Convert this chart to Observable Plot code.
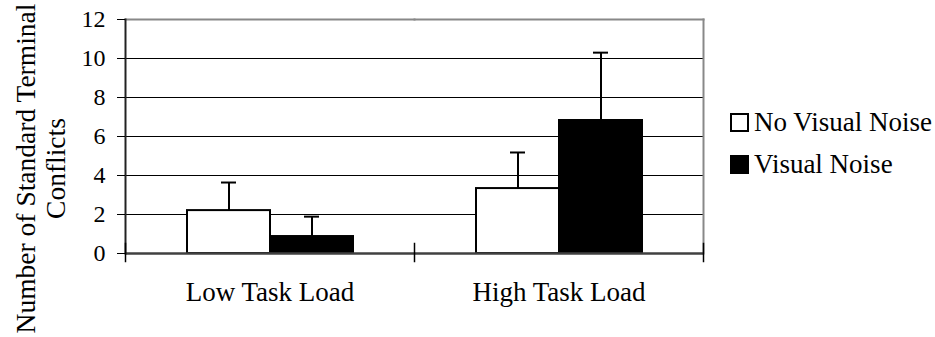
<!DOCTYPE html>
<html>
<head>
<meta charset="utf-8">
<script src="https://cdn.jsdelivr.net/npm/d3@7"></script>
<script src="https://cdn.jsdelivr.net/npm/@observablehq/plot@0.6"></script>
<style>
  body { margin: 0; background: #fff; }
  #chart { position: relative; width: 935px; height: 337px; font-family: "Liberation Serif", "Times New Roman", serif; color: #000; }
  #legend { position: absolute; left: 730px; top: 110px; }
  .item { display: flex; align-items: center; height: 25px; margin-bottom: 17px; font-size: 27px; line-height: 25px; white-space: nowrap; }
  .sw { width: 19px; height: 19px; box-sizing: border-box; border: 2px solid #000; margin-right: 5px; }
</style>
</head>
<body>
<div id="chart"><div id="legend"></div></div>
<script>
// ---- data ----
const groups = ["Low Task Load", "High Task Load"];
const series = ["No Visual Noise", "Visual Noise"];
const noNoiseMeans = [2.2, 3.33];
const noNoiseSDs = [1.44, 1.85];
const noiseMeans = [0.87, 6.82];
const noiseSDs = [1.02, 3.48];
const yTicks = [0, 2, 4, 6, 8, 10, 12];
const yTitle = ["Number of Standard Terminal", "Conflicts"];
const seriesColors = ["#ffffff", "#000000"];

const rows = groups.flatMap((g, i) => [
  {group: g, series: series[0], mean: noNoiseMeans[i], sd: noNoiseSDs[i]},
  {group: g, series: series[1], mean: noiseMeans[i], sd: noiseSDs[i]}
]);

const font = "'Liberation Serif', 'Times New Roman', serif";

const plot = Plot.plot({
  width: 935,
  height: 337,
  marginLeft: 124,
  marginRight: 232,
  marginTop: 19,
  marginBottom: 84,
  style: {fontFamily: font, fontSize: "25px", background: "#fff", color: "#000"},
  fx: {domain: groups, padding: 0},
  x: {domain: series, paddingInner: 0, paddingOuter: 0.733, axis: null},
  y: {domain: [0, 12]},
  color: {domain: series, range: seriesColors},
  marks: [
    Plot.ruleY(yTicks.filter(v => v > 0 && v < 12), {stroke: "#000", strokeWidth: 1}),
    Plot.frame({anchor: "top", stroke: "#888", strokeWidth: 2}),
    Plot.frame({anchor: "right", facetAnchor: "right", stroke: "#888", strokeWidth: 2}),
    Plot.barY(rows, {fx: "group", x: "series", y: "mean", fill: "series", stroke: "#000", strokeWidth: 2}),
    Plot.ruleX(rows, {fx: "group", x: "series", y1: "mean", y2: d => d.mean + d.sd, stroke: "#000", strokeWidth: 2}),
    Plot.tickY(rows, {fx: "group", x: "series", y: d => d.mean + d.sd, stroke: "#000", strokeWidth: 2, insetLeft: 34, insetRight: 34}),
    Plot.ruleY([0], {stroke: "#404040", strokeWidth: 2.5}),
    Plot.frame({anchor: "left", facetAnchor: "left", stroke: "#222", strokeWidth: 2}),
    Plot.frame({anchor: "left", insetTop: 224, insetBottom: -8, stroke: "#000", strokeWidth: 1.5}),
    Plot.frame({anchor: "right", facetAnchor: "right", insetTop: 224, insetBottom: -8, stroke: "#000", strokeWidth: 1.5}),
    Plot.axisY({ticks: yTicks, tickSize: 8, tickPadding: 12, fontSize: 24, fontFamily: font, label: null}),
    Plot.axisFx({anchor: "bottom", tickSize: 0, tickPadding: 28, fontSize: 27, fontFamily: font, label: null}),
    Plot.text([yTitle[0]], {frameAnchor: "left", facetAnchor: "left", rotate: -90, dx: -91, dy: 32, lineAnchor: "bottom", textAnchor: "middle", fontSize: 27.5, fontFamily: font, fill: "#000"}),
    Plot.text([yTitle[1]], {frameAnchor: "left", facetAnchor: "left", rotate: -90, dx: -61, dy: 32, lineAnchor: "bottom", textAnchor: "middle", fontSize: 27.5, fontFamily: font, fill: "#000"})
  ]
});

const chart = document.getElementById("chart");
chart.insertBefore(plot, chart.firstChild);

const legend = document.getElementById("legend");
series.forEach((s, i) => {
  const item = document.createElement("div");
  item.className = "item";
  const sw = document.createElement("div");
  sw.className = "sw";
  sw.style.background = seriesColors[i];
  const label = document.createElement("span");
  label.textContent = s;
  item.appendChild(sw);
  item.appendChild(label);
  legend.appendChild(item);
});
</script>
</body>
</html>
